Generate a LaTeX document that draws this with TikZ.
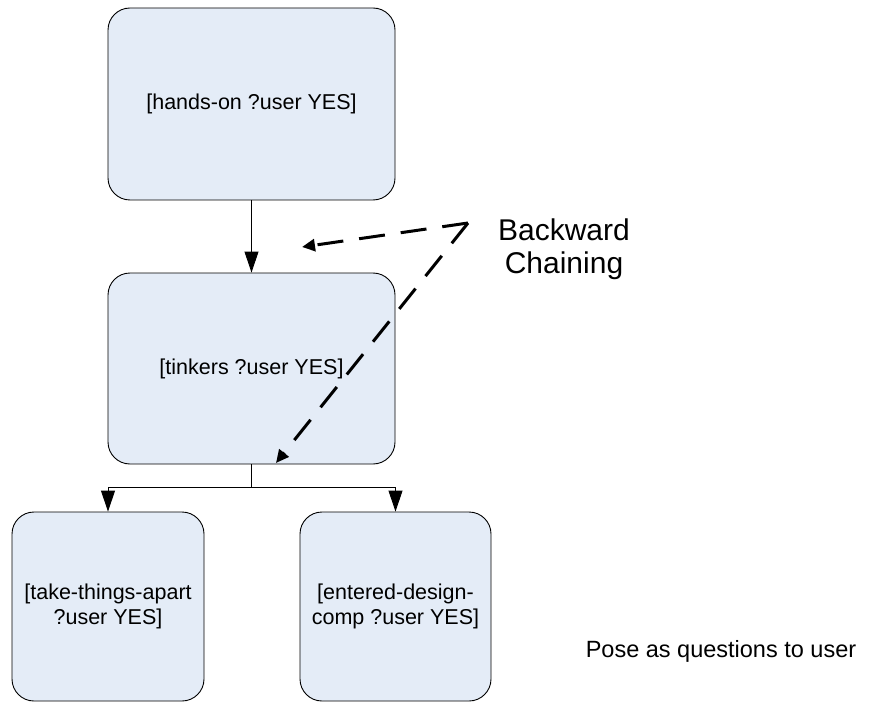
\documentclass[tikz,border=0pt]{standalone}
\usepackage{fontspec}
\setmainfont{Liberation Sans}
\usepackage{tikz}
\usetikzlibrary{arrows.meta}
\definecolor{boxblue}{RGB}{228,236,247}

\begin{document}
\begin{tikzpicture}[x=1pt, y=-1pt,
    box/.style={draw, line width=0.9pt, fill=boxblue, rounded corners=22pt, align=center, inner sep=0pt, font=\fontsize{21.5}{25}\selectfont},
    solidarrow/.style={line width=0.9pt, -{Triangle[length=21pt, width=14pt]}},
    chainarrow/.style={line width=3pt, dash pattern=on 26pt off 16pt, -{Triangle[length=13pt, width=12pt]}}]

\useasboundingbox (0,0) rectangle (893,703);

\node [box, minimum width=287pt, minimum height=192pt] (hands) at (251.5, 104) {[hands-on ?user YES]};
\node [box, minimum width=287pt, minimum height=191pt] (tinkers) at (251.5, 368.5) {[tinkers ?user YES]};
\node [box, minimum width=192pt, minimum height=189pt] (take) at (108, 606.5) {[take-things-apart\\ ?user YES]};
\node [box, minimum width=191pt, minimum height=189pt] (entered) at (395.5, 606.5) {[entered-design-\\comp ?user YES]};

\coordinate (split) at (251.5, 487);
\coordinate (fork) at (468, 223);
\coordinate (toTinkers) at (302, 247);
\coordinate (toChildren) at (276, 463);



\draw [solidarrow] (hands) -- (tinkers);
\draw [line width=0.9pt] (tinkers.south) -- (split);
\draw [solidarrow] (split) -| (take.north);
\draw [solidarrow] (split) -| (entered.north);


\draw [chainarrow] (fork) -- (toTinkers);
\draw [chainarrow] (fork) -- (toChildren);


\node [align=center, font=\fontsize{30}{33}\selectfont] (chaining) at (564, 249) {Backward\\Chaining};
\node [font=\fontsize{23.5}{27}\selectfont] (pose) at (721, 651) {Pose as questions to user};

\end{tikzpicture}
\end{document}
